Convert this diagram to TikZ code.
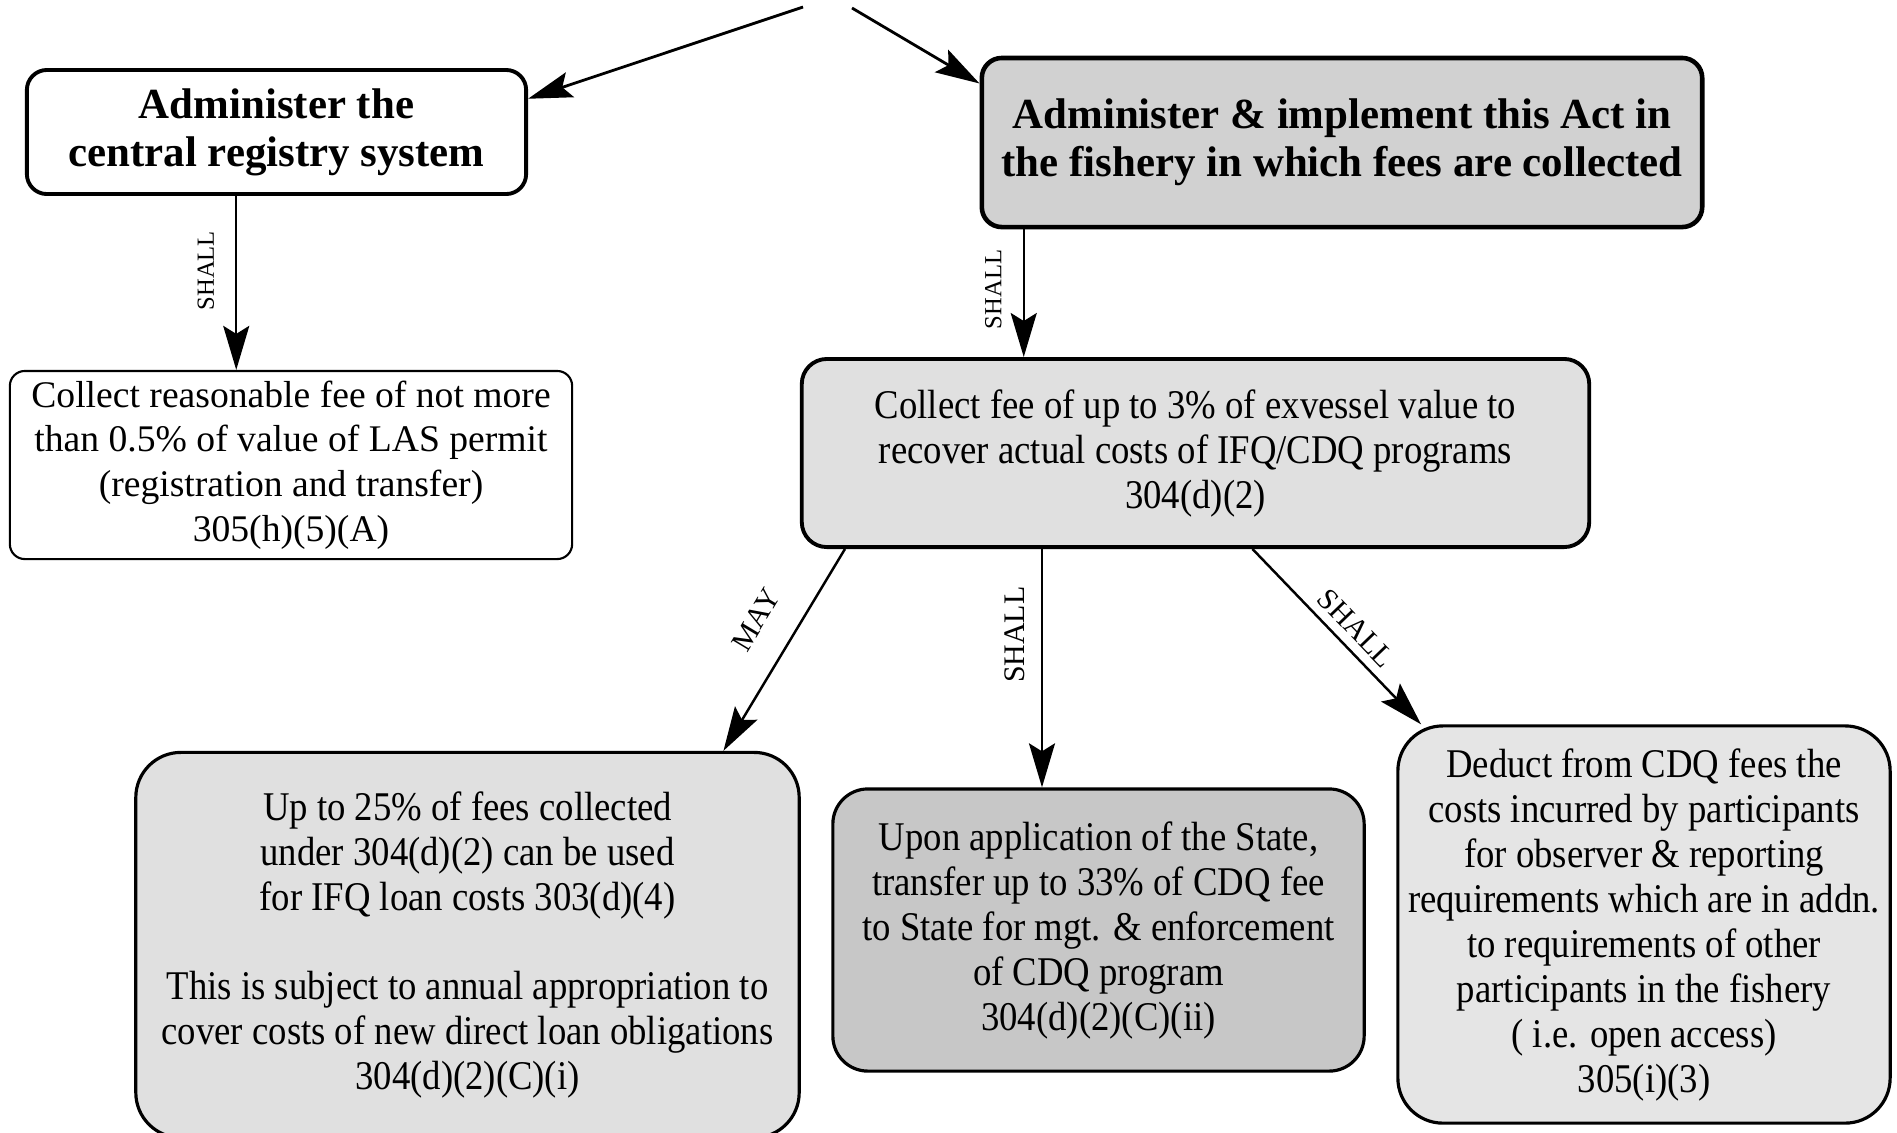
\documentclass[tikz,border=0pt]{standalone}
\usepackage{fontspec}
\setmainfont{Liberation Serif}
\newfontfamily\scanfont[FakeStretch=0.9]{Liberation Serif}
\usepackage{tikz}
\usetikzlibrary{arrows.meta,positioning,calc}
\tikzset{
  head/.style={draw=black, line width=1.1pt, rounded corners=0.2cm, align=center, inner sep=0pt,
               font=\fontsize{12.2}{13.7}\selectfont\bfseries},
  note/.style={draw=black, line width=0.6pt, rounded corners=0.15cm, align=center, inner sep=0pt,
               font=\fontsize{10.7}{12.7}\selectfont},
  scan/.style={draw=black, line width=0.9pt, fill=black!#1, align=center, inner sep=0pt,
               font=\scanfont\fontsize{11.6}{12.8}\selectfont},
  flow/.style={-{Stealth[length=4.4mm, width=2.6mm, inset=0.8mm]}, line width=0.7pt},
  lbl/.style={font=\fontsize{8.5}{9}\selectfont, inner sep=0pt},
  lblsm/.style={font=\fontsize{7}{8}\selectfont, inner sep=0pt},
}
\begin{document}
\begin{tikzpicture}[x=0.01cm, y=-0.01cm]
  \useasboundingbox (0,0) rectangle (1897,1132);
  % upper row
  \node[head, minimum width=4.99cm, minimum height=1.24cm] (reg) at (276.5,132) {Administer the\\central registry system};
  \node[head, fill=black!18, line width=1.3pt, minimum width=7.2cm, minimum height=1.69cm] (act) at (1342,142.5) {Administer \& implement this Act in\\the fishery in which fees are collected};
  \node[note, minimum width=5.62cm, minimum height=1.88cm] (las) at (291,465) {Collect reasonable fee of not more\\than 0.5\% of value of LAS permit\\(registration and transfer)\\305(h)(5)(A)};
  \node[scan=12, rounded corners=0.25cm, line width=1.1pt, minimum width=7.87cm, minimum height=1.88cm] (fee) at (1195.5,453) {Collect fee of up to 3\% of exvessel value to\\recover actual costs of IFQ/CDQ programs\\304(d)(2)};
  % lower row
  \node[scan=12, rounded corners=0.45cm, minimum width=6.63cm, minimum height=3.85cm] (loan) at (467.5,945) {Up to 25\% of fees collected\\under 304(d)(2) can be used\\for IFQ loan costs 303(d)(4)\\[4.4mm]This is subject to annual appropriation to\\cover costs of new direct loan obligations\\304(d)(2)(C)(i)};
  \node[scan=22, rounded corners=0.35cm, minimum width=5.31cm, minimum height=2.82cm] (state) at (1098.5,930) {Upon application of the State,\\transfer up to 33\% of CDQ fee\\to State for mgt. \& enforcement\\of CDQ program\\304(d)(2)(C)(ii)};
  \node[scan=10, rounded corners=0.45cm, minimum width=4.92cm, minimum height=3.97cm] (obs) at (1644,924.5) {Deduct from CDQ fees the\\costs incurred by participants\\for observer \& reporting\\requirements which are in addn.\\to requirements of other\\participants in the fishery\\( i.e. open access)\\305(i)(3)};
  % connectors
  \coordinate (topL) at (803,7);
  \coordinate (topR) at (852,8);
  \draw[flow, line width=0.8pt] (topL) -- ($(reg.north east)!.24!(reg.south east)$);
  \draw[flow, line width=0.8pt] (topR) -- ($(act.north west)!.16!(act.south west)$);
  \draw[flow] ($(reg.south west)!.42!(reg.south east)$) coordinate (r1) -- node[lblsm, pos=.43, rotate=90, anchor=south, outer sep=0.22cm] {SHALL} (r1 |- las.north);
  \draw[flow] ($(act.south west)!.061!(act.south east)$) coordinate (a1) -- node[lblsm, pos=.47, rotate=90, anchor=south, outer sep=0.22cm] {SHALL} (a1 |- fee.north);
  \draw[flow] ($(fee.south west)!.057!(fee.south east)$) -- node[lbl, pos=.45, sloped, above, outer sep=0.3cm] {MAY} ($(loan.north west)!.884!(loan.north east)$);
  \draw[flow] ($(fee.south west)!.306!(fee.south east)$) coordinate (f1) -- node[lbl, pos=.36, rotate=90, anchor=south, outer sep=0.17cm] {SHALL} (f1 |- state.north);
  \draw[flow] ($(fee.south west)!.572!(fee.south east)$) -- node[lbl, pos=.53, sloped, above, outer sep=0.1cm] {SHALL} ($(obs.north west)!.05!(obs.north east)$);
\end{tikzpicture}
\end{document}
